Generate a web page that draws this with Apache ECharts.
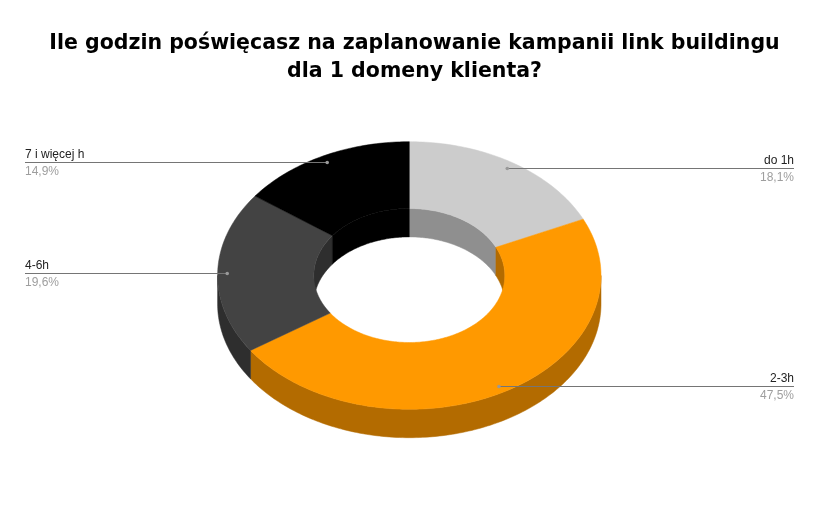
<!DOCTYPE html>
<html>
<head>
<meta charset="utf-8">
<script src="https://cdn.jsdelivr.net/npm/echarts@6/dist/echarts.min.js"></script>
<style>
html,body{margin:0;padding:0;background:#fff;}
#main{width:819px;height:507px;}
</style>
</head>
<body>
<div id="main"></div>
<script>
// ---- data ----
const titleText = 'Ile godzin poświęcasz na zaplanowanie kampanii link buildingu\ndla 1 domeny klienta?';
const categories = ['do 1h', '2-3h', '4-6h', '7 i więcej h'];
const values = [18.1, 47.5, 19.6, 14.9];
const topColors = ['#cccccc', '#ff9900', '#434343', '#000000'];
const sideColors = ['#8f8f8f', '#b36b00', '#2e2e2e', '#000000'];

// ---- layout (styles, not data) ----
const G = { cx: 409.3, cy: 275.5, rx: 191.7, ry: 133.8, irx: 95.5, iry: 67, depth: 28.4, dotR: 0.95, leftX: 25, rightX: 794 };
const total = values.reduce((a, b) => a + b, 0);
const starts = [];
(function () { let acc = 0; values.forEach(v => { starts.push(acc / total * Math.PI * 2); acc += v; }); })();

function pt(rx, ry, t, dy) { return [G.cx + rx * Math.sin(t), G.cy - ry * Math.cos(t) + (dy || 0)]; }
function arc(rx, ry, a0, a1, dy) {
  const n = Math.max(2, Math.ceil(Math.abs(a1 - a0) / (Math.PI / 180)));
  const pts = [];
  for (let i = 0; i <= n; i++) pts.push(pt(rx, ry, a0 + (a1 - a0) * i / n, dy));
  return pts;
}
function intersect(a0, a1, b0, b1) {
  const s = Math.max(a0, b0), e = Math.min(a1, b1);
  return e > s ? [s, e] : null;
}
function angles(api) {
  const i = api.value(0);
  const v = api.value(1);
  const a0 = starts[i];
  const a1 = a0 + v / total * Math.PI * 2;
  return [i, a0, a1, v];
}

function renderSide(params, api) {
  const [i, a0, a1] = angles(api);
  const r = intersect(a0, a1, Math.PI / 2, Math.PI * 1.5);
  if (!r) return null;
  const pts = arc(G.rx, G.ry, r[0], r[1], 0).concat(arc(G.rx, G.ry, r[1], r[0], G.depth));
  return { type: 'polygon', shape: { points: pts }, style: { fill: sideColors[i], stroke: sideColors[i], lineWidth: 0.5 } };
}
function renderInner(params, api) {
  const [i, a0, a1] = angles(api);
  const ranges = [[0, Math.PI / 2], [Math.PI * 1.5, Math.PI * 2]];
  const children = [];
  ranges.forEach(b => {
    const r = intersect(a0, a1, b[0], b[1]);
    if (r) {
      const pts = arc(G.irx, G.iry, r[0], r[1], 0).concat(arc(G.irx, G.iry, r[1], r[0], G.depth));
      children.push({ type: 'polygon', shape: { points: pts }, style: { fill: sideColors[i], stroke: sideColors[i], lineWidth: 0.5 } });
    }
  });
  return { type: 'group', children: children };
}
function renderTop(params, api) {
  const [i, a0, a1] = angles(api);
  const pts = arc(G.rx, G.ry, a0, a1, 0).concat(arc(G.irx, G.iry, a1, a0, 0));
  return { type: 'polygon', shape: { points: pts }, style: { fill: topColors[i], stroke: topColors[i], lineWidth: 0.5 } };
}
function fmtPct(v) { return (Math.round(v / total * 1000) / 10).toFixed(1).replace('.', ',') + '%'; }
function renderLabel(params, api) {
  const [i, a0, a1, v] = angles(api);
  const mid = (a0 + a1) / 2;
  const p = pt(G.rx * G.dotR, G.ry * G.dotR, mid, 0);
  const y = Math.round(p[1]) + 0.5;
  const left = mid > Math.PI;
  const ex = left ? G.leftX : G.rightX;
  const align = left ? 'left' : 'right';
  const font = '12px "Liberation Sans", Arial, sans-serif';
  return {
    type: 'group',
    children: [
      { type: 'line', shape: { x1: ex, y1: y, x2: p[0], y2: y }, style: { stroke: '#757575', lineWidth: 1 } },
      { type: 'circle', shape: { cx: p[0], cy: y, r: 1.8 }, style: { fill: '#999999' } },
      { type: 'text', style: { text: categories[i], x: ex, y: y - 2, textAlign: align, textVerticalAlign: 'bottom', fill: '#222222', font: font } },
      { type: 'text', style: { text: fmtPct(v), x: ex, y: y + 3, textAlign: align, textVerticalAlign: 'top', fill: '#9e9e9e', font: font } }
    ]
  };
}

const seriesData = values.map((v, i) => [i, v]);
const chart = echarts.init(document.getElementById('main'), null, { renderer: 'canvas' });
chart.setOption({
  backgroundColor: '#ffffff',
  animation: false,
  title: {
    text: titleText,
    left: 409.5,
    top: 25,
    textAlign: 'center',
    textStyle: { fontSize: 20.5, fontWeight: 'bold', color: '#000000', fontFamily: '"DejaVu Sans", sans-serif', lineHeight: 28 }
  },
  series: [
    { type: 'custom', coordinateSystem: 'none', z: 1, data: seriesData, renderItem: renderSide, silent: true },
    { type: 'custom', coordinateSystem: 'none', z: 2, data: seriesData, renderItem: renderInner, silent: true },
    { type: 'custom', coordinateSystem: 'none', z: 3, data: seriesData, renderItem: renderTop, silent: true },
    { type: 'custom', coordinateSystem: 'none', z: 4, data: seriesData, renderItem: renderLabel, silent: true }
  ]
});
</script>
</body>
</html>
